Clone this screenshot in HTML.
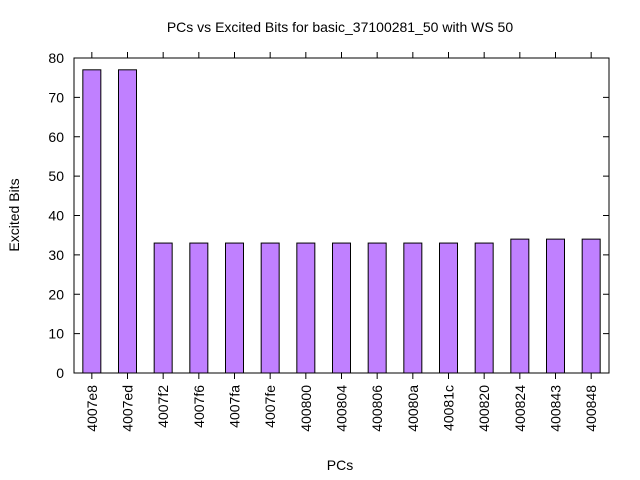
<!DOCTYPE html>
<html><head><meta charset="utf-8"><style>body{margin:0;background:#fff}svg{display:block}</style></head>
<body>
<svg id="chart" width="640" height="480" xmlns="http://www.w3.org/2000/svg" font-family="Liberation Sans, sans-serif" font-size="14">
<text x="340" y="32" text-anchor="middle" font-size="14">PCs vs Excited Bits for basic_37100281_50 with WS 50</text>
<text transform="translate(19,215) rotate(-90)" text-anchor="middle">Excited Bits</text>
<text x="340" y="470" text-anchor="middle">PCs</text>
<g id="bars"></g>
<g id="axes"></g>
</svg>
<script>
const categories = ["4007e8","4007ed","4007f2","4007f6","4007fa","4007fe","400800","400804","400806","40080a","40081c","400820","400824","400843","400848"];
const values = [77,77,33,33,33,33,33,33,33,33,33,33,34,34,34];
const yTicks = [0,10,20,30,40,50,60,70,80];
const L=74,R=609,T=58,B=373,yMax=80;
const NS="http://www.w3.org/2000/svg";
const slot=(R-L)/categories.length;
const xS=i=>L+slot*(i+0.5);
const yS=v=>B-(v/yMax)*(B-T);
function mk(t,a){const e=document.createElementNS(NS,t);for(const k in a)e.setAttribute(k,a[k]);return e;}
const bars=document.getElementById('bars'), axes=document.getElementById('axes');
values.forEach((v,i)=>{
  const r=mk('rect',{x:xS(i)-9,y:yS(v),width:18,height:B-yS(v),fill:'#c080ff',stroke:'#000','stroke-width':1});
  
  
  bars.appendChild(r);
});
const frame=mk('rect',{x:L,y:T,width:R-L,height:B-T,fill:'none',stroke:'#000','stroke-width':1});


axes.appendChild(frame);
yTicks.forEach(t=>{
  const y=yS(t);
  axes.appendChild(mk('line',{x1:L,x2:L+6,y1:y,y2:y,stroke:'#000'}));
  axes.appendChild(mk('line',{x1:R,x2:R-6,y1:y,y2:y,stroke:'#000'}));
  const tx=mk('text',{x:L-10,y:y+5,'text-anchor':'end'});
  tx.textContent=t;
  
  
  axes.appendChild(tx);
});
categories.forEach((c,i)=>{
  const x=xS(i);
  axes.appendChild(mk('line',{x1:x,x2:x,y1:B,y2:B+6,stroke:'#000'}));
  axes.appendChild(mk('line',{x1:x,x2:x,y1:T,y2:T-6,stroke:'#000'}));
  const tx=mk('text',{transform:`translate(${x+5},${B+12}) rotate(-90)`,'text-anchor':'end'});
  tx.textContent=c;
  
  
  axes.appendChild(tx);
});
</script>
</body></html>
